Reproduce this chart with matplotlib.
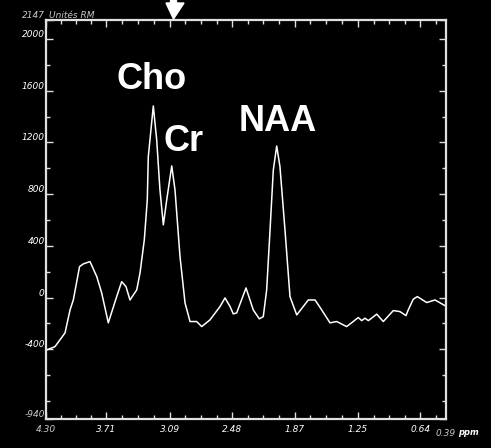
#MR spectrum (single voxel) with Cho, Cr and NAA peaks
#white trace on black, ppm axis reversed

import matplotlib.pyplot as plt
import matplotlib.patches as mpatches
import numpy as np

#chemical shift (ppm) and signal (arbitrary units)
ppm = [4.290, 4.212, 4.114, 4.065, 4.033, 3.972, 3.935, 3.870, 3.804, 3.756,
       3.691, 3.609, 3.560, 3.518, 3.479, 3.413, 3.381, 3.339, 3.310, 3.300,
       3.251, 3.218, 3.186, 3.153, 3.120, 3.071, 3.039, 2.990, 2.941, 2.892,
       2.827, 2.778, 2.697, 2.599, 2.550, 2.501, 2.469, 2.436, 2.345, 2.274,
       2.215, 2.176, 2.143, 2.110, 2.078, 2.045, 2.013, 1.964, 1.915, 1.849,
       1.736, 1.670, 1.605, 1.524, 1.458, 1.361, 1.247, 1.214, 1.182, 1.149,
       1.067, 1.003, 0.905, 0.840, 0.781, 0.759, 0.710, 0.670, 0.579, 0.497,
       0.400]
signal = [-405, -380, -274, -96, -19, 239, 260, 278, 162, 36,
          -196, 7, 123, 84, -19, 59, 190, 446, 755, 1090,
          1482, 1219, 832, 562, 755, 1018, 832, 316, -42, -186,
          -186, -225, -173, -70, -3, -70, -127, -119, 74, -96,
          -165, -148, 59, 523, 987, 1172, 1012, 523, 7, -135,
          -19, -19, -96, -196, -186, -225, -155, -179, -160, -179,
          -129, -186, -101, -109, -140, -96, -13, 7, -39, -19,
          -63]

xmajor = [4.30, 3.71, 3.09, 2.48, 1.87, 1.25, 0.64]
xmajor_labels = ['4.30', '3.71', '3.09', '2.48', '1.87', '1.25', '0.64']
ymajor = [-400, 0, 400, 800, 1200, 1600, 2000]
ymin, ymax = -940, 2147
xleft, xright = 4.30, 0.39

peaks = ['Cho', 'Cr', 'NAA']
peak_ppm = [3.264, 2.956, 2.032]
peak_val = [1683, 1207, 1358]

fg = 'white'
dim = '#c8c8c8'

fig = plt.figure(figsize=(4.91, 4.48), dpi=100, facecolor='black')
ax = fig.add_axes([46/491, 29/448, 400/491, 399/448], facecolor='black')

ax.plot(ppm, signal, color=fg, linewidth=1.1)

ax.set_xlim(xleft, xright)
ax.set_ylim(ymin, ymax)
for s in ax.spines.values():
    s.set_color('#e0e0e0')
    s.set_linewidth(1.6)

#ticks: 3 minor between majors
xminor = []
for a, b in zip(xmajor[:-1], xmajor[1:]):
    xminor += list(np.linspace(a, b, 5)[1:-1])
xminor.append(0.49)
ax.set_xticks(xmajor)
ax.set_xticklabels(xmajor_labels)
ax.set_xticks(xminor, minor=True)

ax.set_yticks(ymajor + [ymin, ymax])
ax.set_yticklabels([str(v) for v in ymajor] + [str(ymin), str(ymax)])
ax.set_yticks([v + 200 for v in ymajor[:-1]] + [-600, -800], minor=True)

ax.tick_params(axis='both', which='both', direction='in', color='#e0e0e0',
               top=True, right=True, labelcolor=fg, labelsize=6.5)
ax.tick_params(which='major', length=5, width=1)
ax.tick_params(which='minor', length=3, width=1)
ax.tick_params(axis='x', pad=4)
ax.tick_params(axis='y', pad=1)
for t in ax.get_yticklabels():
    t.set_fontstyle('italic')
    t.set_verticalalignment('bottom')
    if t.get_text() in (str(ymin), str(ymax)):
        t.set_color(dim)
for t in ax.get_xticklabels():
    t.set_fontstyle('italic')
ax.get_xticklabels()[0].set_color(dim)

#right end label and unit
ax.text(xright, ymin - 75, '0.39', color=dim, fontsize=6.5,
        fontstyle='italic', ha='center', va='top')
fig.text(458/491, 1 - 432/448, 'ppm', color=fg, fontsize=6, fontstyle='italic',
         fontweight='bold', ha='left', va='center')
fig.text(49/491, 1 - 15/448, 'Unités RM', color=dim, fontsize=6.5,
         fontstyle='italic', ha='left', va='center')

#metabolite labels
for name, x, y in zip(peaks, peak_ppm, peak_val):
    ax.text(x, y, name, color=fg, fontsize=26, fontweight='bold',
            family='Liberation Sans', ha='center', va='center')

#voxel marker arrow at the top
arrow = mpatches.Polygon([[166/491, 1 - 3/448], [184/491, 1 - 3/448],
                          [173.5/491, 1 - 19/448]], closed=True,
                         transform=fig.transFigure, color=fg)
fig.patches.append(arrow)
fig.patches.append(mpatches.Rectangle((170/491, 1 - 4/448), 6/491, 4/448,
                                      transform=fig.transFigure, color=fg))

fig.savefig('out.png', dpi=100, facecolor='black')
